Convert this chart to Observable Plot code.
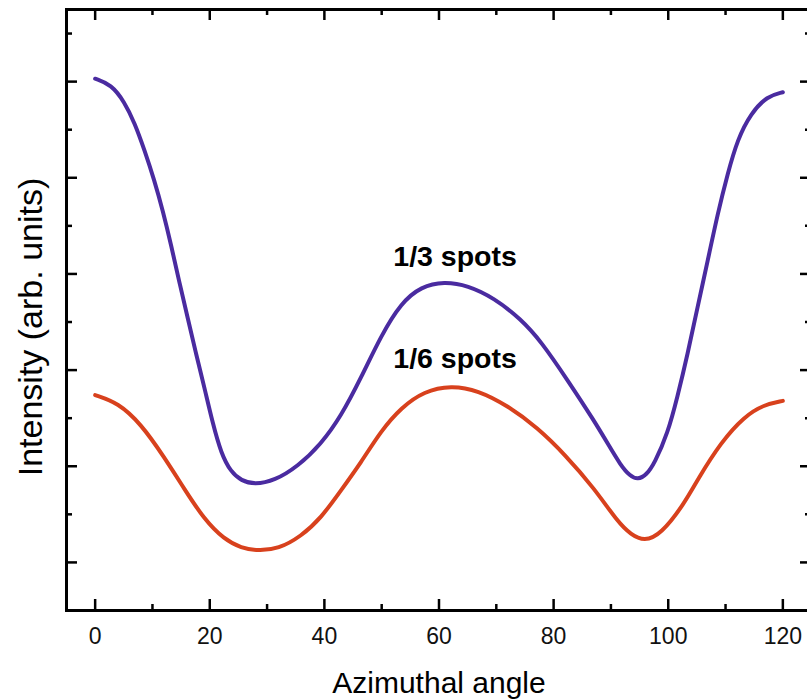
<!DOCTYPE html>
<html>
<head>
<meta charset="utf-8">
<script src="https://cdn.jsdelivr.net/npm/d3@7"></script>
<script src="https://cdn.jsdelivr.net/npm/@observablehq/plot@0.6"></script>
<style>
  html, body { margin: 0; padding: 0; background: #fff; overflow: hidden; }
  #chart svg { font-family: "Liberation Sans", Arial, Helvetica, sans-serif; }
</style>
</head>
<body>
<div id="chart"></div>
<script>
// Series: 1/3 spots (blue)
const blueAngle = [0, 2.8, 5.1, 6.9, 8.6, 10.3, 11.8, 13.3, 14.7, 16.2, 17.6, 19.1, 20.5, 22.0, 23.7, 25.5, 27.8, 31.3, 35.4, 39.4, 42.9, 46.4, 49.9, 53.4, 56.9, 60.9, 65.0, 69.6, 74.3, 77.8, 82.5, 87.1, 89.5, 91.7, 93.3, 94.7, 96.2, 97.6, 99.9, 101.6, 103.4, 105.1, 106.9, 108.6, 110.4, 112.1, 114.4, 117.3, 120];
const blueIntensity = [5.03, 4.97, 4.79, 4.57, 4.29, 3.98, 3.66, 3.29, 2.91, 2.53, 2.17, 1.81, 1.45, 1.13, 0.94, 0.85, 0.81, 0.85, 1.00, 1.23, 1.52, 1.92, 2.36, 2.70, 2.87, 2.92, 2.88, 2.75, 2.53, 2.30, 1.89, 1.47, 1.23, 1.01, 0.90, 0.86, 0.91, 1.03, 1.34, 1.72, 2.17, 2.65, 3.14, 3.62, 4.05, 4.40, 4.67, 4.85, 4.89];
// Series: 1/6 spots (red)
const redAngle = [0, 4.0, 8.0, 12.0, 15.6, 19.0, 22.5, 25.5, 28.4, 32.0, 35.9, 39.4, 42.9, 46.4, 49.9, 53.4, 57.4, 62.1, 66.8, 72.0, 77.2, 82.0, 87.1, 91.2, 93.5, 95.8, 98.7, 102.8, 105.1, 109.2, 113.3, 116.7, 120];
const redIntensity = [1.74, 1.66, 1.44, 1.10, 0.76, 0.45, 0.24, 0.15, 0.12, 0.14, 0.27, 0.46, 0.75, 1.04, 1.37, 1.61, 1.78, 1.84, 1.79, 1.63, 1.40, 1.12, 0.77, 0.42, 0.29, 0.22, 0.29, 0.61, 0.86, 1.25, 1.52, 1.64, 1.68];

const xMajor = [0, 20, 40, 60, 80, 100, 120];
const xMinor = [10, 30, 50, 70, 90, 110];
const yMajor = [0, 1, 2, 3, 4, 5];
const yMinor = [0.5, 1.5, 2.5, 3.5, 4.5, 5.5];

const labelText = ["1/3 spots", "1/6 spots"];
const labelAngle = [62.8, 62.8];
const labelIntensity = [3.08, 2.02];

const xTitle = "Azimuthal angle";
const yTitle = "Intensity (arb. units)";

const blue = blueAngle.map((a, i) => ({angle: a, v: blueIntensity[i]}));
const red = redAngle.map((a, i) => ({angle: a, v: redIntensity[i]}));
const labels = labelText.map((t, i) => ({t, angle: labelAngle[i], v: labelIntensity[i]}));

const W = 807, H = 700, mL = 66, mR = -4, mT = 9, mB = 90;
const pw = W - mL - mR, ph = H - mT - mB;
const majorLen = 11, minorLen = 6;

const chart = Plot.plot({
  width: W,
  height: H,
  marginLeft: mL,
  marginRight: mR,
  marginTop: mT,
  marginBottom: mB,
  style: {background: "#fff", color: "#000"},
  x: {domain: [-5, 125]},
  y: {domain: [-0.5, 5.75]},
  marks: [
    Plot.line(blue, {x: "angle", y: "v", stroke: "#4a2ba0", strokeWidth: 4, curve: "basis"}),
    Plot.line(red, {x: "angle", y: "v", stroke: "#d8411d", strokeWidth: 4, curve: "basis"}),
    Plot.text(labels, {x: "angle", y: "v", text: "t", fontSize: 28.5, fontWeight: "bold", fill: "#000", textAnchor: "middle", lineAnchor: "bottom"}),
    // bottom/top ticks (inward)
    Plot.tickX(xMajor, {x: d => d, insetTop: ph - majorLen, stroke: "#000", strokeWidth: 2.5}),
    Plot.tickX(xMinor, {x: d => d, insetTop: ph - minorLen, stroke: "#000", strokeWidth: 2.5}),
    Plot.tickX(xMajor, {x: d => d, insetBottom: ph - majorLen, stroke: "#000", strokeWidth: 2.5}),
    Plot.tickX(xMinor, {x: d => d, insetBottom: ph - minorLen, stroke: "#000", strokeWidth: 2.5}),
    // left/right ticks (inward)
    Plot.tickY(yMajor, {y: d => d, insetRight: pw - majorLen, stroke: "#000", strokeWidth: 2.5}),
    Plot.tickY(yMinor, {y: d => d, insetRight: pw - minorLen, stroke: "#000", strokeWidth: 2.5}),
    Plot.tickY(yMajor, {y: d => d, insetLeft: pw - majorLen, stroke: "#000", strokeWidth: 2.5}),
    Plot.tickY(yMinor, {y: d => d, insetLeft: pw - minorLen, stroke: "#000", strokeWidth: 2.5}),
    Plot.axisX({ticks: xMajor, tickSize: 0, tickPadding: 17, fontSize: 23, label: null, tickFormat: d => String(d), fill: "#111"}),
    Plot.axisY({ticks: [], label: null, tickSize: 0}),
    Plot.text([xTitle], {text: d => d, frameAnchor: "bottom", textAnchor: "middle", dy: 82, lineAnchor: "bottom", fontSize: 30, fill: "#000"}),
    Plot.text([yTitle], {text: d => d, frameAnchor: "left", textAnchor: "middle", dx: -25, dy: 17, rotate: -90, lineAnchor: "bottom", fontSize: 34, fill: "#000"}),
    Plot.frame({stroke: "#000", strokeWidth: 3})
  ]
});
document.getElementById("chart").appendChild(chart);
</script>
</body>
</html>
